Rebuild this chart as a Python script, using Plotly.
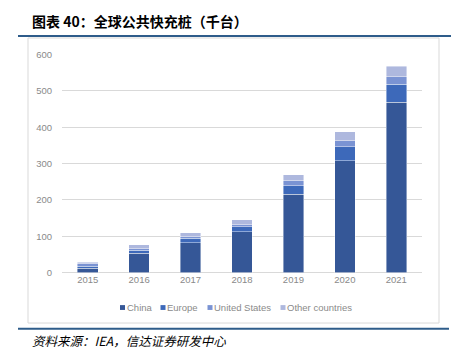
import plotly.graph_objects as go

years = ["2015", "2016", "2017", "2018", "2019", "2020", "2021"]
china = [12, 53, 82, 112, 215, 308, 468]
europe = [6, 8, 13, 14, 24, 38, 50]
united_states = [6, 5, 3, 5, 13, 17, 21]
other = [5, 10, 11, 14, 17, 24, 29]

series_names = ["China", "Europe", "United States", "Other countries"]
series_values = [china, europe, united_states, other]
series_colors = ["#355797", "#3D69BA", "#7A93D3", "#AEB8DE"]

W, H = 451, 361
def px(x):
    return x / W
def py(y):
    return 1 - y / H

fig = go.Figure()
for name, vals, color in zip(series_names, series_values, series_colors):
    fig.add_trace(go.Bar(
        x=years, y=vals, name=name, showlegend=False,
        marker=dict(color=color, line=dict(color="rgba(255,255,255,0.6)", width=0.7)),
    ))

font_cjk = "Noto Sans CJK SC, Noto Sans, sans-serif"
font_lat = "Liberation Sans, Arial, sans-serif"
fig.update_layout(
    width=W, height=H, autosize=False,
    margin=dict(l=0, r=0, t=0, b=0),
    barmode="stack", bargap=0.6,
    plot_bgcolor="white", paper_bgcolor="white",
    font=dict(family=font_lat, size=9.5, color="#8a8a8a"),
    xaxis=dict(domain=[px(62), px(422)], type="category", showgrid=False,
               showline=False, ticks="", tickfont=dict(size=9.5, color="#8a8a8a")),
    yaxis=dict(domain=[py(275), py(50)], range=[0, 600], dtick=100,
               showgrid=True, gridcolor="#d9d9d9", gridwidth=1,
               zeroline=True, zerolinecolor="#d9d9d9", zerolinewidth=1,
               showline=False, ticks="", ticklabelstandoff=9,
               tickfont=dict(size=9.5, color="#8a8a8a")),
    showlegend=False,
)

fig.add_shape(type="rect", xref="paper", yref="paper",
              x0=px(28), x1=px(439), y0=py(327), y1=py(33),
              line=dict(color="#d9d9d9", width=1), fillcolor="rgba(0,0,0,0)", layer="below")
fig.add_shape(type="line", xref="paper", yref="paper",
              x0=px(18), x1=px(451), y0=py(31), y1=py(31),
              line=dict(color="#2E5C8A", width=2))
fig.add_shape(type="line", xref="paper", yref="paper",
              x0=px(18), x1=px(449), y0=py(333), y1=py(333),
              line=dict(color="#2E5C8A", width=2))

# legend (square swatch + label)
legend_sq_x = [120, 160.5, 207.5, 280.5]
for name, color, lx in zip(series_names, series_colors, legend_sq_x):
    fig.add_shape(type="rect", xref="paper", yref="paper",
                  x0=px(lx), x1=px(lx + 5), y0=py(313.5), y1=py(308.5),
                  line=dict(width=0), fillcolor=color)
    fig.add_annotation(xref="paper", yref="paper", x=px(lx + 4.5), y=py(311),
                       xanchor="left", yanchor="middle", showarrow=False,
                       text=name, font=dict(family=font_lat, size=9.5, color="#8a8a8a"))

fig.add_annotation(xref="paper", yref="paper", x=px(30), y=py(15),
                   xanchor="left", yanchor="middle", showarrow=False,
                   text="<b>图表 40：全球公共快充桩（千台）</b>",
                   font=dict(family=font_cjk, size=14, color="#000000"))
fig.add_annotation(xref="paper", yref="paper", x=px(30), y=py(345),
                   xanchor="left", yanchor="middle", showarrow=False,
                   text="<i>资料来源：IEA，信达证券研发中心</i>",
                   font=dict(family=font_cjk, size=12.5, color="#000000"))

fig.write_html(
    "out.html",
    config={"displayModeBar": False},
    post_script="document.body.style.margin='0';",
)
